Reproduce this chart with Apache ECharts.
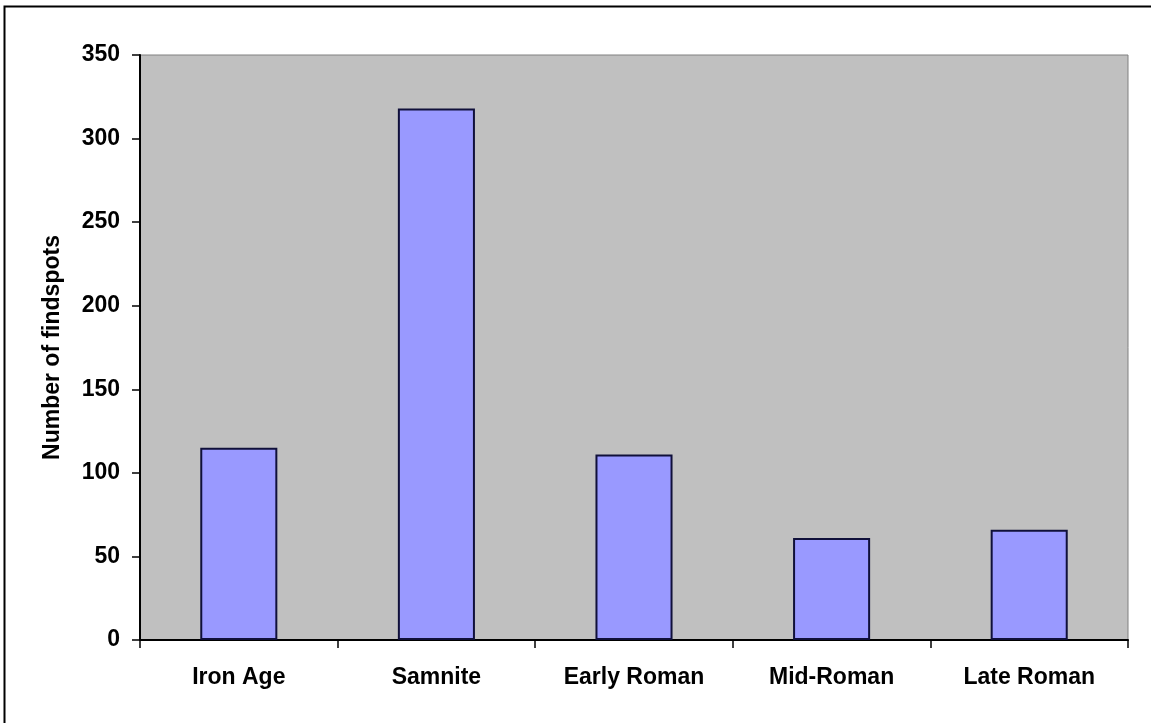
<!DOCTYPE html>
<html>
<head>
<meta charset="utf-8">
<style>
  html, body { margin: 0; padding: 0; background: #ffffff; }
  #chart { width: 1151px; height: 723px; }
</style>
<script src="https://cdn.jsdelivr.net/npm/echarts@6/dist/echarts.min.js"></script>
</head>
<body>
<div id="chart"></div>
<script>
// Findspots per period
const periods = ['Iron Age', 'Samnite', 'Early Roman', 'Mid-Roman', 'Late Roman'];
const findspots = [115, 318, 111, 61, 66];
const yTicks = [0, 50, 100, 150, 200, 250, 300, 350];

const chart = echarts.init(document.getElementById('chart'), null, { renderer: 'canvas' });

const labelFont = {
  fontFamily: '"Liberation Sans", Arial, sans-serif',
  fontWeight: 'bold',
  fontSize: 23,
  color: '#000000'
};

chart.setOption({
  animation: false,
  backgroundColor: '#ffffff',
  graphic: [
    {
      // frame around the chart area (left and top edges)
      type: 'polyline',
      shape: { points: [[4.5, 723], [4.5, 6.5], [1151, 6.5]] },
      style: { stroke: '#000000', lineWidth: 2, fill: null },
      silent: true
    }
  ],
  grid: {
    left: 140,
    right: 23,
    top: 55,
    bottom: 83,
    show: true,
    backgroundColor: '#C0C0C0',
    borderColor: '#808080',
    borderWidth: 1
  },
  xAxis: {
    type: 'category',
    data: periods,
    boundaryGap: true,
    axisLine: { show: true, lineStyle: { color: '#000000', width: 2 } },
    axisTick: { show: true, alignWithLabel: false, length: 8, lineStyle: { color: '#000000', width: 1.5 } },
    axisLabel: Object.assign({ margin: 26, interval: 0 }, labelFont),
    splitLine: { show: false }
  },
  yAxis: {
    type: 'value',
    min: yTicks[0],
    max: yTicks[yTicks.length - 1],
    interval: 50,
    name: 'Number of findspots',
    nameLocation: 'middle',
    nameGap: 76,
    nameRotate: 90,
    nameTextStyle: Object.assign({}, labelFont),
    axisLine: { show: true, lineStyle: { color: '#000000', width: 2 } },
    axisTick: { show: true, length: 8, lineStyle: { color: '#000000', width: 1.5 } },
    axisLabel: Object.assign({ margin: 20 }, labelFont),
    splitLine: { show: false }
  },
  series: [
    {
      type: 'bar',
      data: findspots,
      barWidth: '39%',
      itemStyle: {
        color: '#9999FF',
        borderColor: '#10103a',
        borderWidth: 2
      }
    }
  ]
});
</script>
</body>
</html>
